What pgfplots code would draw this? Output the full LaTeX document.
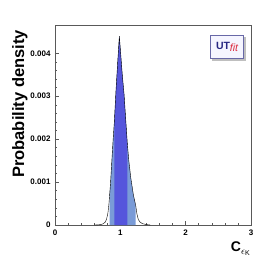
\documentclass[border=0pt]{standalone}
\usepackage{fontspec}
\setmainfont{Liberation Sans}
\usepackage{pgfplots}
\pgfplotsset{compat=1.18}
\usepackage{pgfplotstable}
\definecolor{darkband}{RGB}{85,85,220}
\definecolor{lightband}{RGB}{122,155,215}
\definecolor{logoblue}{RGB}{40,40,130}
\definecolor{logored}{RGB}{220,40,60}
\pgfplotstableread{
x y
0.60 0
0.65 0.000003
0.70 0.00001
0.74 0.00003
0.77 0.00007
0.79 0.00014
0.81 0.00028
0.825 0.00048
0.835 0.00068
0.85 0.00098
0.87 0.0015
0.89 0.0020
0.908 0.0024
0.934 0.00315
0.96 0.0038
0.985 0.0044
1.005 0.0040
1.03 0.0035
1.057 0.00305
1.085 0.0024
1.107 0.0019
1.13 0.0015
1.16 0.0011
1.20 0.0007
1.236 0.00045
1.255 0.00025
1.275 0.00013
1.30 0.00007
1.34 0.00003
1.40 0.00001
1.46 0
}\pdfdata
\begin{document}
\begin{tikzpicture}
\useasboundingbox (-55pt,-41pt) rectangle (224pt,225pt);
\begin{axis}[
  at={(0,0)}, anchor=origin,
  scale only axis, width=196pt, height=200pt,
  xmin=0, xmax=3, ymin=0, ymax=0.00466,
  xtick={0,1,2,3}, ytick={0,0.001,0.002,0.003,0.004},
  minor x tick num=4, minor y tick num=4,
  tick align=inside, xtick pos=bottom, ytick pos=left,
  major tick length=4pt, minor tick length=2.5pt,
  axis line style={black!65, line width=0.5pt},
  tick style={black!65, line width=0.5pt},
  scaled y ticks=false,
  /pgf/number format/assume math mode=true,
  yticklabel style={/pgf/number format/fixed, /pgf/number format/precision=3, font=\bfseries\fontsize{8}{8}\selectfont, xshift=-1pt},
  xticklabel style={font=\bfseries\fontsize{8}{8}\selectfont, yshift=-1pt},
  xlabel={\textbf{C}$_{\epsilon_{\mathrm{K}}}$},
  xlabel style={at={(rel axis cs:1,0)}, anchor=north east, yshift=-17pt, inner sep=0pt, font=\bfseries\fontsize{14}{14}\selectfont},
  ylabel={Probability density},
  ylabel style={at={(rel axis cs:-0.158,0.975)}, anchor=base east, inner sep=0pt, font=\bfseries\fontsize{16.5}{16.5}\selectfont},
]
\addplot[fill=lightband, draw=none, restrict x to domain=0.834:1.237] table {\pdfdata} \closedcycle;
\addplot[fill=darkband, draw=none, restrict x to domain=0.907:1.108] table {\pdfdata} \closedcycle;
\addplot[black, line width=0.4pt] table {\pdfdata};
\node[fill=black!25, minimum width=34pt, minimum height=24pt, inner sep=0pt] at (rel axis cs:0.886,0.882) {};
\node[fill=blue!4, draw=logoblue!70, line width=0.6pt, minimum width=33pt, minimum height=23pt, inner sep=0pt] at (rel axis cs:0.878,0.89) {\fontsize{10.5}{10.5}\selectfont\bfseries\textcolor{logoblue}{UT}\raisebox{-2.5pt}{\textcolor{logored}{\mdseries\itshape fit}}};
\end{axis}
\end{tikzpicture}
\end{document}
